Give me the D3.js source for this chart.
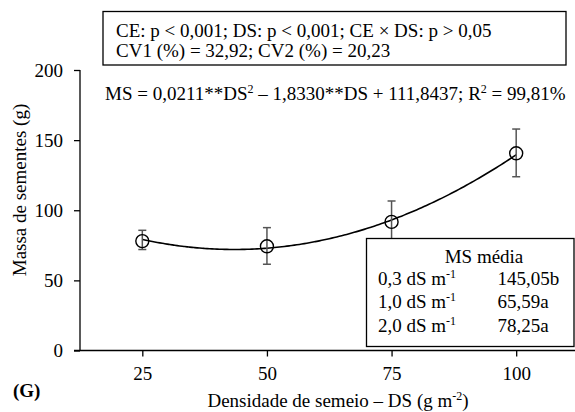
<!DOCTYPE html>
<html>
<head>
<meta charset="utf-8">
<script src="https://cdn.jsdelivr.net/npm/d3@7"></script>
<style>
  body { margin: 0; background: #fff; }
</style>
</head>
<body>
<div id="chart"></div>
<script>
// Data
var densities = [25, 50, 75, 100];
var massMeans = [78, 74.3, 91.7, 140.6];
var errLow = [72, 61.5, 77, 123.9];
var errHigh = [85.7, 87.6, 106.6, 157.9];
var xTicks = [25, 50, 75, 100];
var yTicks = [0, 50, 100, 150, 200];
// regression coefficients from the printed equation (a + b*DS + c*DS^2)
var fitCoef = [111.8437, -1.8330, 0.0211];
var legendLevels = ["0,3", "1,0", "2,0"];
var legendValues = ["145,05b", "65,59a", "78,25a"];

var FONT = "Liberation Serif";
var FS = 19;      // main font size
var SUP = 12;     // superscript size
var svgWidth = 575, svgHeight = 412;

var svg = d3.select("#chart")
  .append("svg")
    .attr("width", svgWidth)
    .attr("height", svgHeight)
    .attr("font-family", FONT)
    .attr("font-size", FS);

// helper for plain text
function label(px, py, str) {
  return svg.append("text")
    .attr("x", px).attr("y", py)
    .attr("font-family", FONT)
    .attr("font-size", FS)
    .attr("fill", "#000")
    .text(str);
}

// scales
var x = d3.scaleLinear().domain([12.5, 112.5]).range([80, 578.5]);
var y = d3.scaleLinear().domain([0, 200]).range([350.5, 70]);

// y axis
var yAxis = svg.append("g")
  .attr("transform", "translate(80,0)")
  .call(d3.axisLeft(y).tickValues(yTicks).tickSize(6).tickPadding(11))
  .attr("font-family", FONT)
  .attr("font-size", FS);
yAxis.select(".domain").attr("d", "M0," + y(200) + "V" + y(0)).attr("stroke-width", 1.3);
yAxis.selectAll(".tick line").attr("stroke-width", 1.3);

// x axis
var xAxis = svg.append("g")
  .attr("transform", "translate(0," + y(0) + ")")
  .call(d3.axisBottom(x).tickValues(xTicks).tickSize(6).tickPadding(10))
  .attr("font-family", FONT)
  .attr("font-size", FS);
xAxis.select(".domain").attr("d", "M74,0H575").attr("stroke-width", 1.3);
xAxis.selectAll(".tick line").attr("stroke-width", 1.3);

// fitted curve
var fitPts = d3.range(25, 100.01, 0.5).map(function(d) {
  return [d, fitCoef[0] + fitCoef[1] * d + fitCoef[2] * d * d];
});
var line = d3.line()
  .x(d => x(d[0]))
  .y(d => y(d[1]))
  .curve(d3.curveBasis);
svg.append("path")
  .attr("d", line(fitPts))
  .attr("fill", "none")
  .attr("stroke", "#000")
  .attr("stroke-width", 1.6);

// error bars
var pts = densities.map(function(d, i) {
  return {ds: d, ms: massMeans[i], lo: errLow[i], hi: errHigh[i]};
});
var eb = svg.append("g").attr("stroke", "#555").attr("stroke-width", 1.5);
pts.forEach(function(p) {
  eb.append("line").attr("x1", x(p.ds)).attr("x2", x(p.ds)).attr("y1", y(p.lo)).attr("y2", y(p.hi));
  eb.append("line").attr("x1", x(p.ds) - 4).attr("x2", x(p.ds) + 4).attr("y1", y(p.lo)).attr("y2", y(p.lo));
  eb.append("line").attr("x1", x(p.ds) - 4).attr("x2", x(p.ds) + 4).attr("y1", y(p.hi)).attr("y2", y(p.hi));
});

// markers
svg.selectAll("circle.pt")
  .data(pts)
  .enter().append("circle")
    .attr("class", "pt")
    .attr("cx", d => x(d.ds))
    .attr("cy", d => y(d.ms))
    .attr("r", 6.5)
    .attr("fill", "none")
    .attr("stroke", "#000")
    .attr("stroke-width", 1.4);

// stats box at top
svg.append("rect")
  .attr("x", 103).attr("y", 11.5)
  .attr("width", 463).attr("height", 53.5)
  .attr("fill", "#fff").attr("stroke", "#000").attr("stroke-width", 1.3);
label(116, 36.5, "CE: p < 0,001; DS: p < 0,001; CE × DS: p > 0,05");
label(116, 57, "CV1 (%) = 32,92; CV2 (%) = 20,23");

// regression equation
var eq = label(105, 100, null);
eq.append("tspan").text("MS = 0,0211**DS");
eq.append("tspan").attr("dy", -7).attr("font-size", SUP).text("2");
eq.append("tspan").attr("dy", 7).text(" – 1,8330**DS + 111,8437; R");
eq.append("tspan").attr("dy", -7).attr("font-size", SUP).text("2");
eq.append("tspan").attr("dy", 7).text(" = 99,81%");

// legend box
svg.append("rect")
  .attr("x", 366.5).attr("y", 238.5)
  .attr("width", 207.5).attr("height", 108)
  .attr("fill", "#fff").attr("stroke", "#000").attr("stroke-width", 1.3);
label(484, 263, "MS média").attr("text-anchor", "middle");
legendLevels.forEach(function(lv, i) {
  var t = label(378, 285 + i * 23.3, null);
  t.append("tspan").text(lv + " dS m");
  t.append("tspan").attr("dy", -7).attr("font-size", SUP).text("-1");
  label(497.5, 285 + i * 23.3, legendValues[i]);
});

// axis titles
label(0, 0, "Massa de sementes (g)")
  .attr("transform", "translate(26,190) rotate(-90)")
  .attr("text-anchor", "middle");
var xt = label(338, 407, null).attr("text-anchor", "middle");
xt.append("tspan").text("Densidade de semeio – DS (g m");
xt.append("tspan").attr("dy", -7).attr("font-size", SUP).text("-2");
xt.append("tspan").attr("dy", 7).text(")");

label(13, 397, "(G)").attr("font-weight", "bold");
</script>
</body>
</html>
